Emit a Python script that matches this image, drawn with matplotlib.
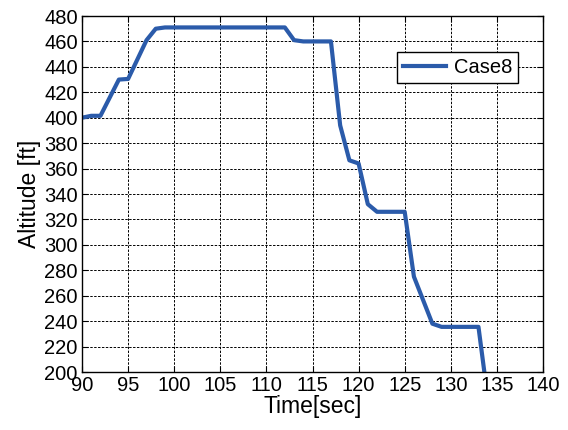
import matplotlib
matplotlib.use("Agg")
import matplotlib.pyplot as plt

plt.rcParams['font.family'] = ['Liberation Sans', 'DejaVu Sans']

time_sec = [90, 91, 92, 94, 95, 97, 98, 99, 112, 113, 114, 117, 118, 119, 120, 121, 122, 125, 126, 128, 129, 133, 134]
altitude_ft = [400, 401.5, 401.5, 430, 430.5, 461, 470, 471, 471, 461, 460, 460, 394, 366.5, 364, 332, 326, 326, 275, 238, 235.5, 235.5, 180]
x_ticks = [90, 95, 100, 105, 110, 115, 120, 125, 130, 135, 140]
y_ticks = [200, 220, 240, 260, 280, 300, 320, 340, 360, 380, 400, 420, 440, 460, 480]

fig = plt.figure(figsize=(5.68, 4.30), dpi=100)
ax = fig.add_axes([82/568, 1-372/430, (543-82)/568, (372-16)/430])
ax.plot(time_sec, altitude_ft, color='#2B5BAA', lw=3.0, label='Case8')
ax.set_xlim(90, 140)
ax.set_ylim(200, 480)
ax.set_xticks(x_ticks)
ax.set_yticks(y_ticks)
ax.tick_params(direction='in', top=True, right=True, labelsize=14.5, length=4, width=0.8, pad=3)
ax.grid(True, color='black', linestyle=(0, (2.5, 1.5)), linewidth=0.7)
for s in ax.spines.values():
    s.set_linewidth(1.0)
ax.set_xlabel('Time[sec]', fontsize=16.5, labelpad=0)
ax.set_ylabel('Altitude [ft]', fontsize=16.5, labelpad=2)
leg = ax.legend(loc='upper right', bbox_to_anchor=(518/568, 1-52/430), bbox_transform=fig.transFigure,
                borderaxespad=0, fontsize=14.5, fancybox=False, framealpha=1, edgecolor='black',
                borderpad=0.3, handlelength=2.1, handletextpad=0.4)
leg.get_frame().set_linewidth(1.0)
fig.savefig('out.png', dpi=100)
